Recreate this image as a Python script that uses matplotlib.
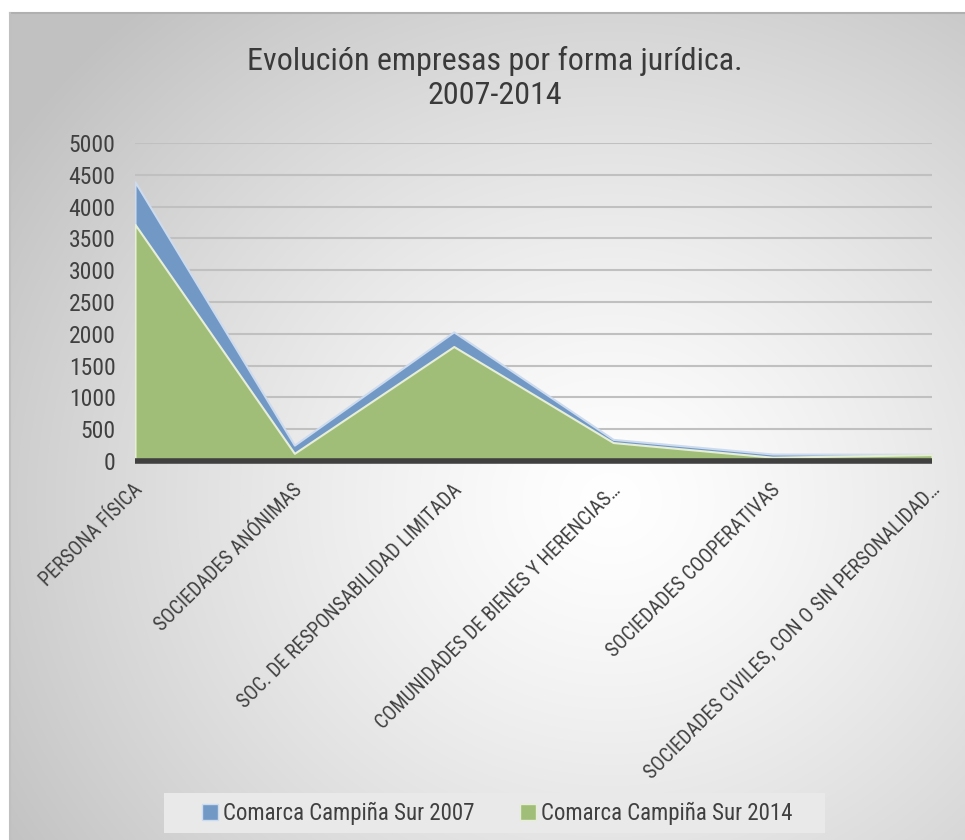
import numpy as np
import matplotlib
matplotlib.use("Agg")
import matplotlib.pyplot as plt
import matplotlib.transforms as mtransforms
from matplotlib.patches import Patch, Rectangle
from matplotlib import font_manager
from matplotlib.font_manager import FontProperties

categories = [
    "PERSONA FÍSICA",
    "SOCIEDADES ANÓNIMAS",
    "SOC. DE RESPONSABILIDAD LIMITADA",
    "COMUNIDADES DE BIENES Y HERENCIAS…",
    "SOCIEDADES COOPERATIVAS",
    "SOCIEDADES CIVILES, CON O SIN PERSONALIDAD…",
]
values_2007 = [4390, 250, 2030, 340, 110, 105]
values_2014 = [3720, 120, 1800, 290, 60, 100]
series_names = ["Comarca Campiña Sur 2007", "Comarca Campiña Sur 2014"]
yticks = [0, 500, 1000, 1500, 2000, 2500, 3000, 3500, 4000, 4500, 5000]
title = "Evolución empresas por forma jurídica.\n2007-2014"

# pick a narrow font if one is installed
fonts = font_manager.fontManager.ttflist
chosen = None
narrow_names = ["Liberation Sans Narrow", "Roboto Condensed", "Open Sans Condensed",
                "Noto Sans Condensed", "DejaVu Sans Condensed", "Arial Narrow"]
for nm in narrow_names:
    for f in fonts:
        if f.name == nm and f.style == "normal" and f.weight in (400, "normal", "regular"):
            chosen = f.fname
            break
    if chosen:
        break
if chosen is None:
    for base in ["Noto Sans", "Open Sans", "DejaVu Sans", "Roboto", "Inter"]:
        cands = [f for f in fonts if f.name == base and f.style == "normal"
                 and str(f.stretch) in ("condensed", "semi-condensed", "extra-condensed", "75", "87.5", "62.5")
                 and f.weight in (400, "normal", "regular")]
        if cands:
            chosen = cands[0].fname
            break
narrow = chosen is not None
if narrow:
    fp = lambda size: FontProperties(fname=chosen, size=size)
    sc = 1.0
else:
    fp = lambda size: FontProperties(family="DejaVu Sans", size=size)
    sc = 0.82

W, H = 965, 840
fig = plt.figure(figsize=(W / 100, H / 100), dpi=100)
fig.patch.set_facecolor("white")

# background panel with radial gradient
bg = fig.add_axes([10 / W, 0, (W - 10) / W, (H - 13) / H])
bg.set_axis_off()
yy, xx = np.mgrid[13:H, 10:W]
cx, cy = 610, 500
r = np.sqrt(((xx - cx) / 1.1) ** 2 + (yy - cy) ** 2)
g = 1 - 0.24 * np.clip(r / 650, 0, 1) ** 1.3
img = np.dstack([g, g, g])
bg.imshow(img, extent=[0, 1, 0, 1], aspect="auto", origin="upper")
bg.plot([0, 1], [1, 1], color="#b0b0b0", lw=1.5, transform=bg.transAxes, clip_on=False)
bg.plot([0, 0], [0, 1], color="#c0c0c0", lw=1.5, transform=bg.transAxes, clip_on=False)
bg.set_xlim(0, 1)
bg.set_ylim(0, 1)

# legend box
fig.patches.append(Rectangle((164 / W, (H - 833) / H), 661 / W, 40 / H,
                             transform=fig.transFigure, facecolor="#e9e9e9",
                             edgecolor="none", zorder=1))

ax = fig.add_axes([135 / W, (H - 461) / H, 797 / W, 318 / H])
ax.patch.set_alpha(0)
x = np.arange(len(categories))
ax.fill_between(x, 0, values_2007, facecolor="#7299c6", edgecolor="#cddbee", linewidth=1.5, zorder=2)
ax.fill_between(x, 0, values_2014, facecolor="#a0be78", edgecolor="#e6eed8", linewidth=1.5, zorder=3)
ax.set_xlim(0, len(categories) - 1)
ax.set_ylim(0, 5000)
ax.set_yticks(yticks)
ax.set_yticklabels([str(v) for v in yticks], color="#404040", fontproperties=fp(17 if narrow else 15 * sc))
ax.yaxis.grid(True, color="#c0c0c0", linewidth=1.5, zorder=1)
ax.set_axisbelow(True)
ax.plot([0, len(categories) - 1], [0, 0], color="#404040", lw=4, zorder=5,
        clip_on=False, solid_capstyle="butt")
for s in ax.spines.values():
    s.set_visible(False)
ax.tick_params(axis="y", length=0, pad=14)
ax.tick_params(axis="x", length=0, pad=14)
ax.set_xticks(x)
ax.set_xticklabels(categories, rotation=45, ha="right", va="top",
                   rotation_mode="anchor", color="#404040",
                   fontproperties=fp(14.5 if narrow else 12.5 * sc))
offset = mtransforms.ScaledTranslation(-2 / 100, 0, fig.dpi_scale_trans)
for lbl in ax.get_xticklabels():
    lbl.set_transform(lbl.get_transform() + offset)

fig.text(495 / W, (H - 78) / H, title, ha="center", va="center",
         color="#3a3a3a", linespacing=1.25, fontproperties=fp(23 if narrow else 22 * sc))

handles = [Patch(facecolor="#7299c6", edgecolor="#cddbee", linewidth=1),
           Patch(facecolor="#a0be78", edgecolor="#e6eed8", linewidth=1)]
leg = fig.legend(handles, series_names, loc="center", bbox_to_anchor=(497 / W, (H - 813) / H),
                 ncol=2, frameon=False, prop=fp(16.5 if narrow else 15 * sc), handlelength=0.7,
                 handleheight=0.7, handletextpad=0.2, columnspacing=2.0, labelcolor="#404040")

fig.savefig("out.png", dpi=100, facecolor="white")
